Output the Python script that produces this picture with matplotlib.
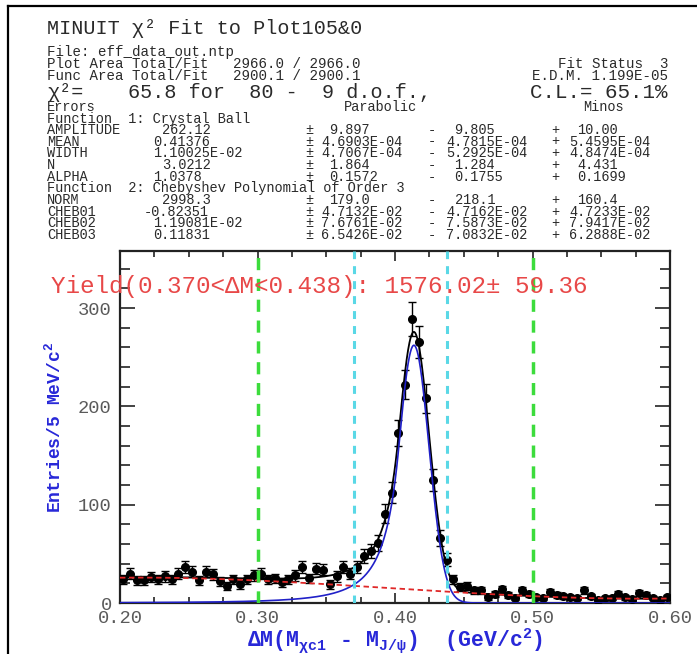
import numpy as np
import matplotlib
matplotlib.use("Agg")
import matplotlib.pyplot as plt
from matplotlib.lines import Line2D
from matplotlib.ticker import MultipleLocator, FormatStrFormatter
from numpy.polynomial import chebyshev

plt.rcParams['font.family'] = ['Liberation Mono', 'DejaVu Sans Mono']
plt.rcParams['mathtext.fontset'] = 'custom'
plt.rcParams['mathtext.rm'] = 'Liberation Mono:bold'
plt.rcParams['mathtext.it'] = 'Liberation Mono:bold'
plt.rcParams['mathtext.bf'] = 'Liberation Mono:bold'

# histogram: 80 bins of 5 MeV over 0.20 - 0.60 GeV
x_lo, x_hi = 0.20, 0.60
bin_width = 0.005
counts = [24, 30, 23, 23, 26, 24, 27, 24, 30, 37,
          32, 23, 32, 29, 22, 17, 24, 19, 24, 28,
          30, 24, 25, 21, 24, 28, 37, 25, 35, 34,
          19, 27, 37, 30, 37, 48, 53, 61, 91, 112,
          173, 222, 289, 265, 208, 125, 66, 44, 24, 16,
          17, 13, 13, 6, 9, 14, 8, 5, 13, 9,
          6, 5, 11, 8, 7, 6, 5, 13, 7, 3,
          5, 5, 9, 6, 4, 10, 8, 5, 3, 6]

# fit results (crystal ball + chebyshev)
cb_names = ["AMPLITUDE", "MEAN", "WIDTH", "N", "ALPHA"]
cb_values = [262.12, 0.41376, 1.10025e-02, 3.0212, 1.0378]
cb_text = ["262.12", "0.41376", "1.10025E-02", "3.0212", "1.0378"]
cb_parab = ["9.897", "4.6903E-04", "4.7067E-04", "1.864", "0.1572"]
cb_minus = ["9.805", "4.7815E-04", "5.2925E-04", "1.284", "0.1755"]
cb_plus = ["10.00", "5.4595E-04", "4.8474E-04", "4.431", "0.1699"]

ch_names = ["NORM", "CHEB01", "CHEB02", "CHEB03"]
ch_values = [2998.3, -0.82351, 1.19081e-02, 0.11831]
ch_text = ["2998.3", "-0.82351", "1.19081E-02", "0.11831"]
ch_parab = ["179.0", "4.7132E-02", "7.6761E-02", "6.5426E-02"]
ch_minus = ["218.1", "4.7162E-02", "7.5873E-02", "7.0832E-02"]
ch_plus = ["160.4", "4.7233E-02", "7.9417E-02", "6.2888E-02"]

yield_lo, yield_hi = 0.370, 0.438
yield_val, yield_err = 1576.02, 59.36
side_lo, side_hi = 0.30, 0.50


def crystal_ball(x, amp, mean, width, n, alpha):
    t = (x - mean) / width
    a = abs(alpha)
    big_a = (n / a) ** n * np.exp(-a * a / 2)
    big_b = n / a - a
    out = np.empty_like(t)
    core = t > -a
    out[core] = np.exp(-t[core] ** 2 / 2)
    out[~core] = big_a / (big_b - t[~core]) ** n
    return amp * out


def background(x, norm, c1, c2, c3):
    t = (x - 0.5 * (x_lo + x_hi)) / (0.5 * (x_hi - x_lo))
    return norm * bin_width * chebyshev.chebval(t, [1.0, c1, c2, c3])


W, H = 697, 654
fig = plt.figure(figsize=(W / 100, H / 100), dpi=100)
fig.patch.set_facecolor('white')


def px(x, y):
    return x / W, 1 - y / H


def put(x, y, s, size=9.8, **kw):
    fig.text(*px(x, y), s, fontsize=size, color='#2a2a2a', va='center', **kw)


# frame lines
fig.add_artist(Line2D([8 / W, 8 / W], [0, 1 - 6 / H], color='black', lw=1.6))
fig.add_artist(Line2D([8 / W, 1], [1 - 6 / H, 1 - 6 / H], color='black', lw=1.6))

put(47, 28, "MINUIT \u03c7\u00b2 Fit to Plot105&0", size=14.5)
put(47, 52, "File: eff_data_out.ntp", size=10.2)
put(47, 64, "Plot Area Total/Fit", size=10.2)
put(233, 64, "2966.0 / 2966.0", size=10.2)
put(47, 76, "Func Area Total/Fit", size=10.2)
put(233, 76, "2900.1 / 2900.1", size=10.2)
put(668, 64, "Fit Status  3", size=10.2, ha='right')
put(668, 76, "E.D.M. 1.199E-05", size=10.2, ha='right')
put(47, 92, "\u03c7\u00b2=", size=14.5)
put(128, 92, "65.8 for  80 -  9 d.o.f.,", size=14.5)
put(668, 92, "C.L.= 65.1%", size=15, ha='right')
put(47, 107, "Errors")
put(344, 107, "Parabolic")
put(583, 107, "Minos")
put(47, 118.5, "Function  1: Crystal Ball")

# token columns of the parameter table (pixels)
val_x = {13: 162, 12: 153, 11: 144}
pm_x, pval_x = 305, 321
minus_x, mval_x = 428, 446
plus_x, plusval_x = 551, 569
short_shift = 8.5


def table_row(y, name, val, col, pe, me, pl):
    def sx(s):
        return short_shift if len(s) <= 6 else 0
    put(47, y, name)
    put(val_x[col], y, val)
    put(pm_x, y, "\u00b1")
    put(pval_x + sx(pe), y, pe)
    put(minus_x, y, "-")
    put(mval_x + sx(me), y, me)
    put(plus_x, y, "+")
    put(plusval_x + sx(pl), y, pl)


cb_cols = [13, 12, 12, 13, 12]
ch_cols = [13, 11, 12, 12]
row_y = 129.8
for i in range(len(cb_names)):
    table_row(row_y, cb_names[i], cb_text[i], cb_cols[i], cb_parab[i], cb_minus[i], cb_plus[i])
    row_y += 11.7
put(47, row_y, "Function  2: Chebyshev Polynomial of Order 3")
row_y += 11.7
for i in range(len(ch_names)):
    table_row(row_y, ch_names[i], ch_text[i], ch_cols[i], ch_parab[i], ch_minus[i], ch_plus[i])
    row_y += 11.7

# histogram axes
ax = fig.add_axes([120 / W, 1 - 603 / H, 550 / W, 352 / H])
centers = x_lo + bin_width * (np.arange(len(counts)) + 0.5)
counts = np.array(counts, dtype=float)
ax.errorbar(centers, counts, yerr=np.sqrt(counts), fmt='o', color='black', ms=5.5,
            elinewidth=1, capsize=2.8, capthick=1, zorder=3)

xs = np.linspace(x_lo, x_hi, 1200)
sig = crystal_ball(xs, *cb_values)
bkg = background(xs, *ch_values)
ax.plot(xs, sig + bkg, color='black', lw=1.3, zorder=4)
ax.plot(xs, sig, color='#2020c8', lw=1.2, zorder=5)
ax.plot(xs, bkg, color='#e02828', lw=1.3, dashes=(3, 2), zorder=5)

for xv in (side_lo, side_hi):
    ax.axvline(xv, color='#3cdc3c', lw=2.5, dashes=(3.5, 2.5), zorder=6)
for xv in (yield_lo, yield_hi):
    ax.axvline(xv, color='#5ad8e6', lw=2.2, dashes=(2.6, 2.3), zorder=6)

ax.set_xlim(x_lo, x_hi)
ax.set_ylim(0, 358)
ax.xaxis.set_major_locator(MultipleLocator(0.1))
ax.xaxis.set_minor_locator(MultipleLocator(0.025))
ax.yaxis.set_major_locator(MultipleLocator(100))
ax.yaxis.set_minor_locator(MultipleLocator(20))
ax.xaxis.set_major_formatter(FormatStrFormatter('%.2f'))
ax.yaxis.set_major_formatter(FormatStrFormatter('%d'))
ax.tick_params(which='both', direction='in', top=True, right=True,
               color='#222222', width=1.2, labelcolor='#5a5a5a', labelsize=13.5)
ax.tick_params(axis='y', which='major', length=11, pad=6)
ax.tick_params(axis='y', which='minor', length=7)
ax.tick_params(axis='x', which='major', length=7, pad=5)
ax.tick_params(axis='x', which='minor', length=4.5)
for sp in ax.spines.values():
    sp.set_linewidth(1.6)
    sp.set_color('#222222')

ax.set_xlabel(r'$\Delta$M(M$_{\chi c1}$ - M$_{J/\psi}$)  (GeV/c$^{2}$)',
              color='#2828d8', fontsize=15.5, fontweight='bold', labelpad=-1)
ax.set_ylabel(r'Entries/5 MeV/c$^{2}$', color='#2828d8', fontsize=13,
              fontweight='bold', labelpad=10)

fig.text(*px(51, 286),
         "Yield(%.3f<\u0394M<%.3f): %.2f\u00b1 %.2f" % (yield_lo, yield_hi, yield_val, yield_err),
         color='#e84848', fontsize=17.5, va='center')

fig.savefig('out.png', dpi=100)
